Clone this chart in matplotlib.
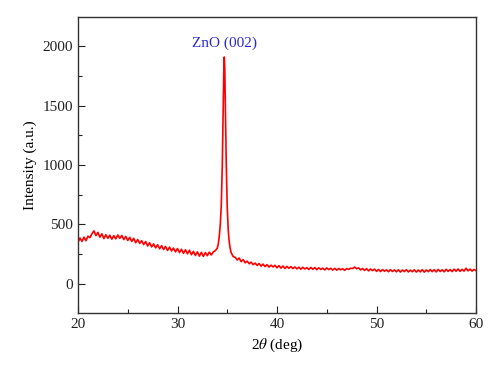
import numpy as np
import matplotlib.pyplot as plt

# XRD scan
# low-angle background, 20.0 .. 33.8 deg, step 0.2
theta_low = np.round(np.arange(20.0, 33.81, 0.2), 1)
counts_low = [348, 385, 356, 392, 362, 400, 388, 420, 445, 405,
              432, 392, 420, 380, 412, 382, 408, 375, 405, 378,
              410, 382, 406, 372, 398, 364, 390, 356, 382, 345,
              372, 340, 362, 330, 355, 318, 345, 310, 335, 302,
              328, 294, 320, 288, 314, 280, 308, 276, 300, 268,
              296, 262, 290, 256, 286, 252, 282, 244, 272, 238,
              268, 232, 264, 230, 262, 236, 266, 242, 268, 278]

# ZnO (002) reflection
theta_peak = [34.0, 34.1, 34.2, 34.3, 34.4, 34.5, 34.6, 34.65, 34.7,
              34.75, 34.8, 34.9, 35.0, 35.1, 35.2, 35.3, 35.4, 35.6]
counts_peak = [300, 335, 400, 500, 660, 990, 1550, 1780, 1910,
               1820, 1560, 1010, 640, 450, 350, 295, 260, 228]

# high-angle background, 35.8 .. 60.0 deg, step 0.2
theta_high = np.round(np.arange(35.8, 60.01, 0.2), 1)
counts_high = [222, 200, 216, 186, 202, 176, 190, 168, 182, 160,
               174, 154, 170, 148, 165, 144, 160, 140, 156, 141,
               155, 134, 152, 131, 149, 128, 146, 130, 144, 127,
               141, 125, 139, 122, 138, 124, 135, 120, 137, 121,
               136, 118, 134, 120, 131, 116, 133, 119, 130, 115,
               129, 114, 128, 117, 126, 113, 127, 120, 130, 128,
               140, 126, 133, 116, 128, 112, 127, 108, 124, 110,
               123, 104, 120, 102, 119, 105, 117, 101, 118, 103,
               116, 100, 117, 98, 115, 102, 118, 99, 114, 101,
               117, 98, 115, 100, 118, 97, 116, 101, 119, 102,
               118, 99, 120, 103, 117, 100, 121, 104, 119, 102,
               122, 105, 124, 104, 121, 106, 130, 108, 123, 106,
               120, 110]

peak_label = 'ZnO (002)'
peak_pos = 34.77

two_theta = np.concatenate([theta_low, theta_peak, theta_high])
intensity = np.concatenate([counts_low, counts_peak, counts_high])

plt.rcParams['font.family'] = ['Liberation Serif', 'DejaVu Serif']
plt.rcParams['mathtext.fontset'] = 'stix'

fig = plt.figure(figsize=(5, 3.78), dpi=100)
ax = fig.add_axes([0.156, 0.171, 0.796, 0.785])

ax.plot(two_theta, intensity, color='#ff0000', lw=1.2)
ax.text(peak_pos, 1965, peak_label, color='#2a2ad0', fontsize=11,
        ha='center', va='bottom')

ax.set_xlim(20, 60)
ax.set_ylim(-250, 2250)
ax.set_xticks([20, 30, 40, 50, 60])
ax.set_xticks([25, 35, 45, 55], minor=True)
ax.set_yticks([0, 500, 1000, 1500, 2000])
ax.set_yticks([250, 750, 1250, 1750], minor=True)
ax.tick_params(which='both', direction='in', labelsize=11, width=0.8,
               colors='#222222')
ax.tick_params(which='major', length=5)
ax.tick_params(which='minor', length=3)
for s in ax.spines.values():
    s.set_linewidth(1.0)
    s.set_color('#333333')

ax.set_xlabel(r'2$\theta$ (deg)', fontsize=11)
ax.set_ylabel('Intensity (a.u.)', fontsize=11)

fig.savefig('out.png', dpi=100)
